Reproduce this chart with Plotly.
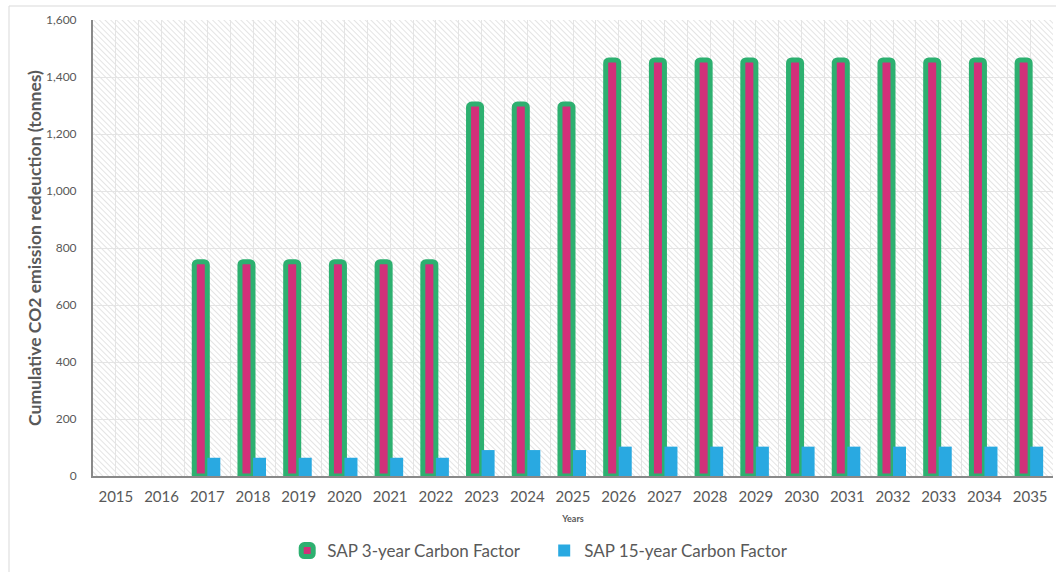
import base64
import plotly.graph_objects as go

# Years on the category axis
years = list(range(2015, 2036))

# Cumulative CO2 emission reduction (tonnes) per carbon-factor scenario
sap_3yr = [0, 0, 752, 752, 752, 752, 752, 752, 1305, 1305, 1305,
           1460, 1460, 1460, 1460, 1460, 1460, 1460, 1460, 1460, 1460]
sap_15yr = [0, 0, 64, 64, 64, 64, 64, 64, 91, 91, 91,
            103, 103, 103, 103, 103, 103, 103, 103, 103, 103]

y_ticks = [0, 200, 400, 600, 800, 1000, 1200, 1400, 1600]

FONT = "Lato, 'Open Sans', sans-serif"
TEXT = "#595959"

# Fine diagonal hatching for the plotting area background
hatch_svg = (
    '<svg xmlns="http://www.w3.org/2000/svg" width="960" height="456" '
    'viewBox="0 0 960 456" preserveAspectRatio="none">'
    '<defs><pattern id="h" width="4" height="4" patternUnits="userSpaceOnUse" '
    'patternTransform="rotate(-45)">'
    '<rect width="4" height="4" fill="#ffffff"/>'
    '<line x1="0" y1="0" x2="0" y2="4" stroke="#d6d6d6" stroke-width="1.3"/>'
    '</pattern></defs>'
    '<rect width="960" height="456" fill="url(#h)"/></svg>'
)
hatch_uri = "data:image/svg+xml;base64," + base64.b64encode(hatch_svg.encode()).decode()

# Zero years are left empty so the outlined bars leave no stub
sap_3yr_drawn = [v if v > 0 else None for v in sap_3yr]

fig = go.Figure()

fig.add_trace(go.Bar(
    x=years, y=sap_3yr_drawn, name="SAP 3-year Carbon Factor",
    marker=dict(color="#D2307A", line=dict(color="#2DB070", width=5),
                cornerradius=3),
))
fig.add_trace(go.Bar(
    x=years, y=sap_15yr, name="SAP 15-year Carbon Factor",
    marker=dict(color="#29A9E1", line=dict(width=0)),
))

fig.update_layout(
    width=1056, height=572,
    margin=dict(l=93, r=3, t=20, b=96, autoexpand=False),
    paper_bgcolor="white",
    plot_bgcolor="rgba(0,0,0,0)",
    barmode="group", bargap=0.43, bargroupgap=0,
    font=dict(family=FONT, color=TEXT),
    showlegend=True,
    legend=dict(orientation="h", x=0.47, xanchor="center", y=-0.125, yanchor="top",
                font=dict(size=17, color=TEXT), itemwidth=30, tracegroupgap=0,
                entrywidth=212),
    images=[dict(source=hatch_uri, xref="paper", yref="paper", x=0, y=1,
                 sizex=1, sizey=1, xanchor="left", yanchor="top",
                 sizing="stretch", layer="below")],
    shapes=[dict(type="rect", xref="paper", yref="paper",
                 x0=-0.0875, x1=1.01, y0=-0.25, y1=1.0307,
                 line=dict(color="#d9d9d9", width=1), fillcolor="rgba(0,0,0,0)",
                 layer="below")],
)

fig.update_xaxes(
    range=[2014.5, 2035.5], tickmode="array", tickvals=years,
    ticktext=[str(y) for y in years],
    tickfont=dict(size=15, color=TEXT), ticks="", ticklen=0, ticklabelstandoff=6,
    showgrid=True, gridcolor="#e4e4e4", gridwidth=1,
    minor=dict(dtick=0.5, tick0=2014.5, showgrid=True, gridcolor="#e4e4e4", gridwidth=1),
    showline=True, linecolor="#898989", linewidth=2,
    title=dict(text="Years", font=dict(size=9, color=TEXT, weight="bold"), standoff=12),
    zeroline=False, automargin=False,
)
fig.update_yaxes(
    range=[0, 1600], tickmode="array", tickvals=y_ticks,
    ticktext=[f"{v:,}" for v in y_ticks],
    tickfont=dict(size=12, color=TEXT), ticks="", ticklen=0, ticklabelstandoff=12,
    showgrid=True, gridcolor="#e4e4e4", gridwidth=1,
    showline=True, linecolor="#898989", linewidth=2,
    title=dict(text="Cumulative CO2 emission redeuction (tonnes)",
               font=dict(size=17.5, color=TEXT, weight="bold"), standoff=0),
    zeroline=False, automargin=False,
)

fig.write_html("out.html")
